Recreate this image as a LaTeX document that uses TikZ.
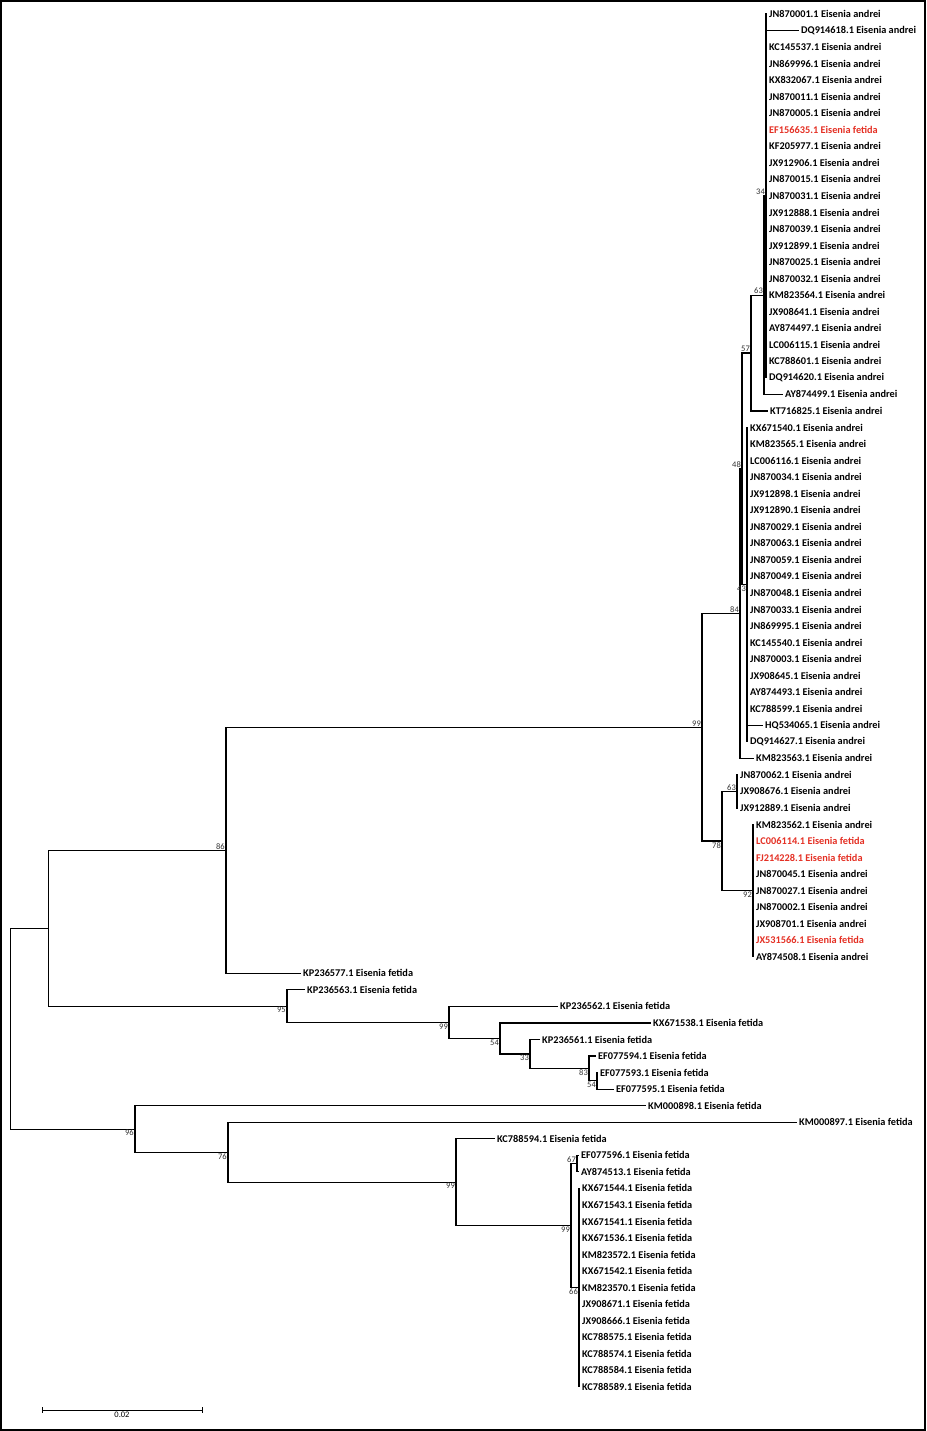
\documentclass[tikz,border=0pt]{standalone}
\usepackage{fontspec}
\setmainfont{Carlito}
\usetikzlibrary{calc}
\definecolor{fetidared}{RGB}{228,48,36}
\newcommand\taxfont{\fontsize{10.3}{12}\selectfont\bfseries}
\newcommand\bootfont{\fontsize{8.5}{9}\selectfont}
\tikzset{
  taxon/.style={anchor=west,inner xsep=2pt,inner ysep=0pt,font=\taxfont},
  branch/.style={line width=1.2pt},
  thinbranch/.style={line width=0.8pt},
  boot/.style={anchor=south east,inner sep=1pt,font=\bootfont,text=black!80},
  bootlow/.style={boot,anchor=north east},
}
% internal node at x=#2, halfway between the children #3 and #4
\newcommand\treenode[4]{%
  \path ($(#3)!0.5!(#4)$) coordinate (#1m);
  \coordinate (#1) at (#2,0 |- #1m);}
\begin{document}
\begin{tikzpicture}[x=1pt,y=-1pt]
    \useasboundingbox (0,0) rectangle (926,1431);
    \draw[line width=1.5pt] (1,1) rectangle (925,1430);
    %% taxa
    \foreach \r/\x/\acc/\sp/\c in {
        1/769/JN870001.1/andrei/black, 2/801/DQ914618.1/andrei/black,
        3/769/KC145537.1/andrei/black, 4/769/JN869996.1/andrei/black,
        5/769/KX832067.1/andrei/black, 6/769/JN870011.1/andrei/black,
        7/769/JN870005.1/andrei/black, 8/769/EF156635.1/fetida/fetidared,
        9/769/KF205977.1/andrei/black, 10/769/JX912906.1/andrei/black,
        11/769/JN870015.1/andrei/black, 12/769/JN870031.1/andrei/black,
        13/769/JX912888.1/andrei/black, 14/769/JN870039.1/andrei/black,
        15/769/JX912899.1/andrei/black, 16/769/JN870025.1/andrei/black,
        17/769/JN870032.1/andrei/black, 18/769/KM823564.1/andrei/black,
        19/769/JX908641.1/andrei/black, 20/769/AY874497.1/andrei/black,
        21/769/LC006115.1/andrei/black, 22/769/KC788601.1/andrei/black,
        23/769/DQ914620.1/andrei/black, 24/785/AY874499.1/andrei/black,
        25/770/KT716825.1/andrei/black, 26/750/KX671540.1/andrei/black,
        27/750/KM823565.1/andrei/black, 28/750/LC006116.1/andrei/black,
        29/750/JN870034.1/andrei/black, 30/750/JX912898.1/andrei/black,
        31/750/JX912890.1/andrei/black, 32/750/JN870029.1/andrei/black,
        33/750/JN870063.1/andrei/black, 34/750/JN870059.1/andrei/black,
        35/750/JN870049.1/andrei/black, 36/750/JN870048.1/andrei/black,
        37/750/JN870033.1/andrei/black, 38/750/JN869995.1/andrei/black,
        39/750/KC145540.1/andrei/black, 40/750/JN870003.1/andrei/black,
        41/750/JX908645.1/andrei/black, 42/750/AY874493.1/andrei/black,
        43/750/KC788599.1/andrei/black, 44/765/HQ534065.1/andrei/black,
        45/750/DQ914627.1/andrei/black, 46/756/KM823563.1/andrei/black,
        47/740/JN870062.1/andrei/black, 48/740/JX908676.1/andrei/black,
        49/740/JX912889.1/andrei/black, 50/756/KM823562.1/andrei/black,
        51/756/LC006114.1/fetida/fetidared, 52/756/FJ214228.1/fetida/fetidared,
        53/756/JN870045.1/andrei/black, 54/756/JN870027.1/andrei/black,
        55/756/JN870002.1/andrei/black, 56/756/JX908701.1/andrei/black,
        57/756/JX531566.1/fetida/fetidared, 58/756/AY874508.1/andrei/black,
        59/303/KP236577.1/fetida/black, 60/307/KP236563.1/fetida/black,
        61/560/KP236562.1/fetida/black, 62/653/KX671538.1/fetida/black,
        63/542/KP236561.1/fetida/black, 64/598/EF077594.1/fetida/black,
        65/600/EF077593.1/fetida/black, 66/616/EF077595.1/fetida/black,
        67/648/KM000898.1/fetida/black, 68/799/KM000897.1/fetida/black,
        69/497/KC788594.1/fetida/black, 70/581/EF077596.1/fetida/black,
        71/581/AY874513.1/fetida/black, 72/582/KX671544.1/fetida/black,
        73/582/KX671543.1/fetida/black, 74/582/KX671541.1/fetida/black,
        75/582/KX671536.1/fetida/black, 76/582/KM823572.1/fetida/black,
        77/582/KX671542.1/fetida/black, 78/582/KM823570.1/fetida/black,
        79/582/JX908671.1/fetida/black, 80/582/JX908666.1/fetida/black,
        81/582/KC788575.1/fetida/black, 82/582/KC788574.1/fetida/black,
        83/582/KC788584.1/fetida/black, 84/582/KC788589.1/fetida/black}
        \node[taxon,text=\c] (t\r) at (\x-2,{14+16.54*(\r-1)}) {\acc\ Eisenia \sp};
    %% andrei clade
    \treenode{n34}{766}{t1}{t23}
    \foreach \r in {1,3,4,...,23}
        \draw[branch] (n34) |- (t\r.west);
    \draw[thinbranch] (n34) |- (t2.west);
    \treenode{n63a}{764}{n34}{t24}
    \draw[branch] (n63a) |- (n34) (n63a) |- (t24.west);
    \treenode{n57}{751}{n63a}{t25}
    \draw[branch] (n57) |- (n63a) (n57) |- (t25.west);
    \treenode{n43}{747}{t26}{t45}
    \foreach \r in {26,...,45}
        \draw[branch] (n43) |- (t\r.west);
    \treenode{n48}{742}{n57}{n43}
    \draw[branch] (n48) |- (n57) (n48) |- (n43);
    \treenode{n84}{740}{n48}{t46}
    \draw[branch] (n84) |- (n48) (n84) |- (t46.west);
    \treenode{n63b}{737}{t47}{t49}
    \foreach \r in {47,48,49}
        \draw[branch] (n63b) |- (t\r.west);
    \treenode{n92}{753}{t50}{t58}
    \foreach \r in {50,...,58}
        \draw[branch] (n92) |- (t\r.west);
    \treenode{n78}{722}{n63b}{n92}
    \draw[branch] (n78) |- (n63b) (n78) |- (n92);
    \treenode{n99a}{702}{n84}{n78}
    \draw[branch] (n99a) |- (n84) (n99a) |- (n78);
    \treenode{n86}{226}{n99a}{t59}
    \draw[branch] (n86) |- (n99a) (n86) |- (t59.west);
    %% fetida clade
    \treenode{n54b}{597}{t65}{t66}
    \draw[branch] (n54b) |- (t65.west) (n54b) |- (t66.west);
    \treenode{n83}{589}{t64}{n54b}
    \draw[branch] (n83) |- (t64.west) (n83) |- (n54b);
    \treenode{n33}{530}{t63}{n83}
    \draw[branch] (n33) |- (t63.west) (n33) |- (n83);
    \treenode{n54a}{500}{t62}{n33}
    \draw[branch] (n54a) |- (t62.west) (n54a) |- (n33);
    \treenode{n99b}{449}{t61}{n54a}
    \draw[branch] (n99b) |- (t61.west) (n99b) |- (n54a);
    \treenode{n95}{287}{t60}{n99b}
    \draw[branch] (n95) |- (t60.west) (n95) |- (n99b);
    \treenode{nup}{48}{n86}{n95}
    \draw[thinbranch] (nup) |- (n86) (nup) |- (n95);
    %% lower clade
    \treenode{n67}{577}{t70}{t71}
    \draw[branch] (n67) |- (t70.west) (n67) |- (t71.west);
    \treenode{n66}{579}{t72}{t84}
    \foreach \r in {72,...,84}
        \draw[branch] (n66) |- (t\r.west);
    \treenode{n99d}{571}{n67}{n66}
    \draw[branch] (n99d) |- (n67) (n99d) |- (n66);
    \treenode{n99c}{456}{t69}{n99d}
    \draw[branch] (n99c) |- (t69.west) (n99c) |- (n99d);
    \treenode{n76}{228}{t68}{n99c}
    \draw[branch] (n76) |- (t68.west) (n76) |- (n99c);
    \treenode{n96}{135}{t67}{n76}
    \draw[branch] (n96) |- (t67.west) (n96) |- (n76);
    \treenode{root}{10}{nup}{n96}
    \draw[thinbranch] (root) |- (nup) (root) |- (n96);
    %% bootstrap values
    \foreach \n/\v in {n34/34,n63a/63,n57/57,n48/48,n84/84,n99a/99,n63b/63,n86/86,n67/67}
        \node[boot] (b\n) at (\n) {\v};
    \foreach \n/\v in {n43/43,n78/78,n92/92,n95/95,n99b/99,n54a/54,n33/33,n83/83,
                       n54b/54,n96/96,n76/76,n99c/99,n99d/99,n66/66}
        \node[bootlow] (b\n) at (\n) {\v};
    %% scale bar
    \coordinate (sbl) at (42,1410);
    \coordinate (sbr) at (202,1410);
    \draw[line width=0.8pt] (sbl) -- (sbr) (sbl) ++(0,-3) -- ++(0,6) (sbr) ++(0,-3) -- ++(0,6);
    \node[font=\bootfont,anchor=north,inner sep=2pt] (sblab) at ($(sbl)!0.5!(sbr)$) {0.02};
\end{tikzpicture}
\end{document}
